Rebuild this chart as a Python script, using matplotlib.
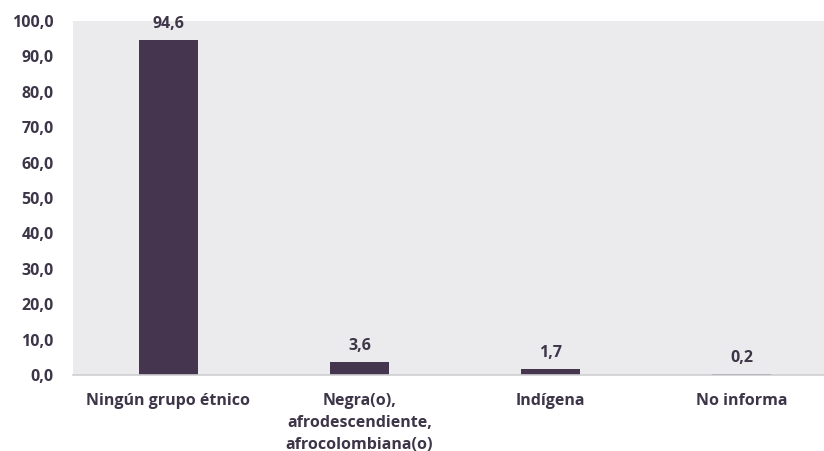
import matplotlib
matplotlib.use("Agg")
import matplotlib.pyplot as plt

categories = ["Ningún grupo étnico", "Negra(o),\nafrodescendiente,\nafrocolombiana(o)", "Indígena", "No informa"]
values = [94.6, 3.6, 1.7, 0.2]
value_labels = ["94,6", "3,6", "1,7", "0,2"]
yticks = [0, 10, 20, 30, 40, 50, 60, 70, 80, 90, 100]
ytick_labels = ["0,0", "10,0", "20,0", "30,0", "40,0", "50,0", "60,0", "70,0", "80,0", "90,0", "100,0"]

text_color = "#3d3548"
bar_color = "#45354f"
bg_color = "#ebebee"

plt.rcParams["font.family"] = ["Open Sans", "DejaVu Sans"]
weight = "bold"
fs = 11.5

fig = plt.figure(figsize=(8.24, 4.51), dpi=100)
ax = fig.add_axes([73 / 824, 1 - 375 / 451, (824 - 73) / 824, (375 - 21) / 451])
ax.set_facecolor(bg_color)

x = range(len(categories))
bars = ax.bar(x, values, width=0.31, color=bar_color, zorder=3)
for xi, v, lab in zip(x, values, value_labels):
    ax.annotate(lab, (xi, v), xytext=(0, 6), textcoords="offset points",
                ha="center", va="bottom", fontsize=fs, fontweight=weight, color=text_color)

ax.set_ylim(0, 100)
ax.set_xlim(-0.5, -0.5 + (824 - 73) / 191)
ax.set_yticks(yticks)
ax.set_yticklabels(ytick_labels, fontsize=fs, fontweight=weight, color=text_color)
ax.set_xticks(list(x))
ax.set_xticklabels(categories, fontsize=fs, fontweight=weight, color=text_color, linespacing=1.48, va="top")
ax.tick_params(axis="both", length=0)
ax.tick_params(axis="y", pad=14)
ax.tick_params(axis="x", pad=13)

for side in ["top", "right", "left"]:
    ax.spines[side].set_visible(False)
ax.spines["bottom"].set_color("#cfcfd2")
ax.spines["bottom"].set_linewidth(1.2)
ax.spines["bottom"].set_zorder(4)

fig.savefig("out.png", dpi=100, facecolor="white")
